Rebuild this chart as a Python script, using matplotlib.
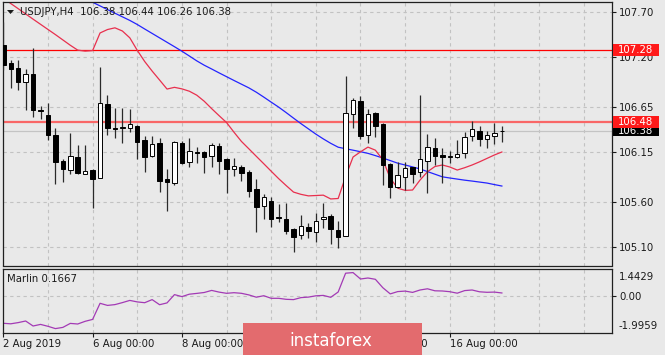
import matplotlib
matplotlib.use("Agg")
import matplotlib.pyplot as plt
import matplotlib.transforms as mtransforms
from matplotlib.patches import Rectangle, Polygon
import numpy as np

plt.rcParams['font.family'] = ['DejaVu Sans']

# ---------------- data ----------------
opens = [107.338, 107.14, 107.083, 106.93, 107.02, 106.615, 106.56, 106.34, 106.053, 105.95,
         106.094, 105.91, 105.954, 105.862, 106.681, 106.415, 106.42, 106.415, 106.444, 106.286,
         106.112, 106.256, 105.85, 105.813, 106.256, 106.039, 106.158, 106.149, 106.112, 106.223,
         106.075, 105.961, 105.99, 105.935, 105.74, 105.555, 105.61, 105.43, 105.407, 105.297,
         105.234, 105.325, 105.27, 105.407, 105.447, 105.289, 105.226, 106.57, 106.718, 106.341,
         106.581, 106.459, 106.02, 105.762, 105.879, 105.983, 105.928, 106.057, 106.20, 106.115,
         106.10, 106.101, 106.138, 106.33, 106.389, 106.297, 106.333, 106.38]
highs = [107.593, 107.17, 107.17, 107.07, 107.30, 106.66, 106.70, 106.42, 106.075, 106.36,
         106.23, 106.23, 105.97, 107.098, 106.784, 106.643, 106.643, 106.626, 106.452, 106.333,
         106.333, 106.305, 105.965, 106.275, 106.275, 106.311, 106.21, 106.164, 106.25, 106.256,
         106.086, 106.083, 106.009, 105.954, 105.854, 105.684, 105.658, 105.574, 105.591, 105.31,
         105.455, 105.363, 105.474, 105.591, 105.466, 105.392, 106.994, 106.754, 106.776, 106.626,
         106.596, 106.474, 106.028, 106.045, 106.039, 105.99, 106.784, 106.352, 106.305, 106.194,
         106.167, 106.286, 106.371, 106.496, 106.441, 106.385, 106.47, 106.44]
lows = [107.061, 106.86, 106.84, 106.62, 106.54, 106.52, 106.29, 105.795, 105.824, 105.906,
        105.906, 105.906, 105.53, 105.86, 106.34, 106.305, 106.256, 106.37, 106.075, 105.935,
        106.10, 105.707, 105.503, 105.787, 106.016, 105.99, 106.028, 105.917, 105.99, 105.906,
        105.695, 105.887, 105.832, 105.658, 105.27, 105.411, 105.319, 105.381, 105.242, 105.049,
        105.19, 105.197, 105.16, 105.308, 105.131, 105.086, 105.22, 106.415, 106.297, 106.25,
        106.322, 105.787, 105.647, 105.75, 105.732, 105.813, 105.879, 105.695, 106.009, 105.806,
        106.028, 106.083, 106.083, 106.275, 106.219, 106.194, 106.241, 106.26]
closes = [107.116, 107.07, 106.93, 107.02, 106.62, 106.605, 106.34, 106.045, 105.961, 106.11,
          105.917, 105.94, 105.854, 106.692, 106.422, 106.405, 106.425, 106.46, 106.267, 106.101,
          106.238, 105.835, 105.82, 106.267, 106.028, 106.167, 106.142, 106.101, 106.23, 106.053,
          105.965, 106.001, 105.917, 105.724, 105.547, 105.651, 105.411, 105.42, 105.278, 105.215,
          105.333, 105.278, 105.389, 105.436, 105.30, 105.215, 106.581, 106.729, 106.333, 106.57,
          106.444, 106.009, 105.769, 105.898, 105.972, 105.906, 106.075, 106.205, 106.112, 106.10,
          106.11, 106.127, 106.316, 106.404, 106.293, 106.341, 106.367, 106.38]
red_ma = [107.858, 107.797, 107.740, 107.682, 107.624, 107.567, 107.510, 107.453, 107.394, 107.335,
          107.281, 107.270, 107.276, 107.471, 107.509, 107.528, 107.493, 107.417, 107.279, 107.155,
          107.049, 106.950, 106.850, 106.869, 106.852, 106.826, 106.782, 106.715, 106.633, 106.555,
          106.479, 106.372, 106.270, 106.188, 106.105, 106.023, 105.940, 105.858, 105.782, 105.709,
          105.684, 105.667, 105.671, 105.675, 105.633, 105.638, 105.881, 106.097, 106.155, 106.207,
          106.173, 106.067, 105.862, 105.752, 105.728, 105.732, 105.842, 105.934, 105.992, 106.009,
          105.987, 105.953, 105.979, 106.009, 106.044, 106.082, 106.120, 106.153]
blue_ma = [108.290, 108.255, 108.215, 108.174, 108.134, 108.093, 108.053, 108.012, 107.972, 107.931,
           107.891, 107.851, 107.811, 107.771, 107.730, 107.690, 107.650, 107.610, 107.565, 107.515,
           107.466, 107.417, 107.368, 107.319, 107.269, 107.216, 107.162, 107.114, 107.072, 107.029,
           106.987, 106.945, 106.904, 106.863, 106.815, 106.761, 106.705, 106.650, 106.590, 106.528,
           106.467, 106.409, 106.351, 106.298, 106.249, 106.206, 106.189, 106.173, 106.156, 106.138,
           106.113, 106.086, 106.058, 106.029, 106.009, 105.988, 105.965, 105.936, 105.907, 105.878,
           105.865, 105.853, 105.841, 105.831, 105.820, 105.809, 105.792, 105.776]
marlin = [-1.654, -1.684, -1.612, -1.516, -1.816, -1.720, -1.834, -1.972, -1.900, -1.660,
          -1.696, -1.534, -1.420, -0.454, -0.580, -0.532, -0.412, -0.280, -0.370, -0.418,
          -0.232, -0.538, -0.430, 0.068, -0.052, 0.093, 0.141, 0.195, 0.320, 0.218,
          0.146, 0.183, 0.146, 0.050, -0.088, 0.002, -0.154, -0.154, -0.214, -0.232,
          -0.112, -0.082, -0.004, 0.020, -0.094, 0.225, 1.353, 1.389, 1.005, 1.065,
          0.987, 0.483, 0.111, 0.249, 0.279, 0.201, 0.345, 0.417, 0.297, 0.285,
          0.243, 0.153, 0.309, 0.345, 0.237, 0.207, 0.219, 0.1667]
price_ticks = [107.70, 107.20, 106.65, 106.15, 105.60, 105.10]
marlin_tick_labels = ['1.4429', '0.00', '-1.9959']
date_labels = ['2 Aug 2019', '6 Aug 00:00', '8 Aug 00:00', '12 Aug 00:00', '14 Aug 00:00', '16 Aug 00:00']
date_bars = [0, 12, 24, 36, 48, 60]
level_top = 107.28
level_mid = 106.48
last_price = 106.38
title_text = 'USDJPY,H4  106.38 106.44 106.26 106.38'
marlin_text = 'Marlin 0.1667'

# ---------------- layout ----------------
BG = '#e9e9e9'
W_PX, H_PX = 665, 355
fig = plt.figure(figsize=(6.65, 3.55), dpi=100, facecolor=BG)


def fx(px):
    return px / W_PX


def fy(py):
    return 1 - py / H_PX


X0, X1 = 2.5, 612
ax = fig.add_axes([fx(X0), fy(265.5), fx(X1) - fx(X0), fy(2) - fy(265.5)], facecolor=BG)
ax2 = fig.add_axes([fx(X0), fy(332.5), fx(X1) - fx(X0), fy(268.5) - fy(332.5)], facecolor=BG)

n = len(opens)
idx = np.arange(n)
for a in (ax, ax2):
    a.set_xlim(-0.11, 81.8)
    for s in a.spines.values():
        s.set_color('#202020')
        s.set_linewidth(0.9)
ax.set_ylim(104.896, 107.814)
ax2.set_ylim(-2.206, 1.635)

grid_kw = dict(color='#c2c2c2', lw=0.8, ls=(0, (3, 3)), zorder=0)
for g in range(6, 82, 6):
    ax.axvline(g, **grid_kw)
    ax2.axvline(g, **grid_kw)
for p in price_ticks:
    ax.axhline(p, **grid_kw)
ax2.axhline(0, **grid_kw)

# level lines
ax.axhline(last_price, color='#c4c4c4', lw=0.9, zorder=1)
ax.axhline(level_top, color='#ff0000', lw=0.9, zorder=1.2)
ax.axhline(level_mid, color='#ff3b3b', lw=1.6, alpha=0.75, zorder=1.2)

# moving averages
ax.plot(idx, blue_ma, color='#2424ff', lw=0.9, zorder=2)
ax.plot(idx, red_ma, color='#e8304e', lw=0.9, zorder=2)

# candles
o = np.array(opens); c = np.array(closes)
ax.vlines(idx, lows, highs, color='#2a2a2a', lw=0.9, zorder=3)
bottoms = np.minimum(o, c)
heights = np.abs(c - o)
colors = ['white' if cc > oo else 'black' for oo, cc in zip(o, c)]
ax.bar(idx, heights, bottom=bottoms, width=0.6, color=colors, edgecolor='black',
       linewidth=0.7, zorder=4)

# axes ticks
FS = 7.3
ax.yaxis.tick_right()
ax.set_yticks(price_ticks)
ax.set_yticklabels([f'{p:.2f}' for p in price_ticks])
ax.tick_params(axis='y', length=3, width=0.8, pad=2, labelsize=FS, colors='#1a1a1a')
ax.tick_params(axis='x', length=0, labelbottom=False)

ax2.yaxis.tick_right()
ax2.set_yticks([1.167, 0.0, -1.756])
ax2.set_yticklabels(marlin_tick_labels)
ax2.tick_params(axis='y', length=3, width=0.8, pad=2, labelsize=FS, colors='#1a1a1a')
yt = ax2.yaxis.get_major_ticks()
for k in (0, 2):
    yt[k].tick2line.set_visible(False)
ax2.set_xticks(date_bars)
ax2.set_xticklabels(date_labels, ha='left')
ax2.tick_params(axis='x', length=3, width=0.8, pad=2, labelsize=FS, colors='#1a1a1a')

# marlin line
ax2.plot(idx, marlin, color='#a33ab5', lw=0.9, zorder=2)

# price boxes on the right
trans = mtransforms.blended_transform_factory(ax.transAxes, ax.transData)
box_w = 46 / (X1 - X0)
px_per_unit = 263.5 / (107.814 - 104.896)


def price_box(price, label, fc, h_px, z):
    h = h_px / px_per_unit
    ax.add_patch(Rectangle((1.0015, price - h / 2), box_w, h, transform=trans, fc=fc,
                           ec='none', clip_on=False, zorder=z))
    ax.text(1.0015 + box_w / 2, price, label, transform=trans, color='white', ha='center',
            va='center', fontsize=FS, zorder=z + 0.1, clip_on=False)


price_box(last_price, f'{last_price:.2f}', '#000000', 10, 5)
price_box(level_mid, f'{level_mid:.2f}', '#ff1a1a', 12, 6)
price_box(level_top, f'{level_top:.2f}', '#ff1a1a', 12, 6)

# title and indicator label
fig.patches.append(Polygon([(fx(7), fy(10)), (fx(14), fy(10)), (fx(10.5), fy(14))],
                           closed=True, transform=fig.transFigure, fc='#1a1a1a', ec='none'))
fig.text(fx(20), fy(12), title_text, fontsize=FS, color='#1a1a1a', va='center', ha='left')
fig.text(fx(7), fy(278.5), marlin_text, fontsize=FS, color='#1a1a1a', va='center', ha='left')

# watermark
fig.patches.append(Rectangle((fx(243), fy(355)), fx(422) - fx(243), fy(323) - fy(355),
                             transform=fig.transFigure, fc='#e36b6e', ec='none', zorder=10))
fig.text(fx(331), fy(345.5), 'instaforex', fontsize=12, color='white', ha='center',
         va='baseline', zorder=11)

fig.savefig('out.png', dpi=100, facecolor=BG)
